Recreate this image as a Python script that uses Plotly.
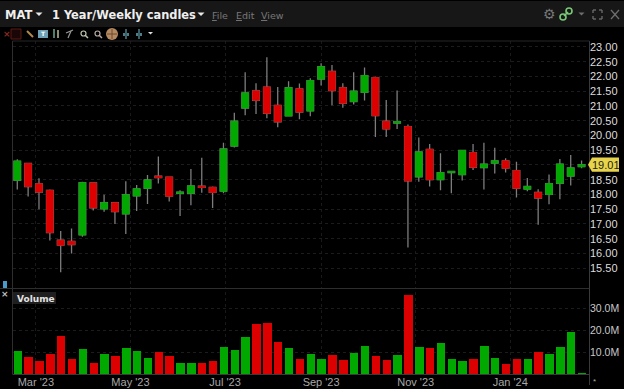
import plotly.graph_objects as go

dates = ["2023-02-17","2023-02-24","2023-03-03","2023-03-10","2023-03-17","2023-03-24","2023-03-31","2023-04-07","2023-04-14","2023-04-21","2023-04-28","2023-05-05","2023-05-12","2023-05-19","2023-05-26","2023-06-02","2023-06-09","2023-06-16","2023-06-23","2023-06-30","2023-07-07","2023-07-14","2023-07-21","2023-07-28","2023-08-04","2023-08-11","2023-08-18","2023-08-25","2023-09-01","2023-09-08","2023-09-15","2023-09-22","2023-09-29","2023-10-06","2023-10-13","2023-10-20","2023-10-27","2023-11-03","2023-11-10","2023-11-17","2023-11-24","2023-12-01","2023-12-08","2023-12-15","2023-12-22","2023-12-29","2024-01-05","2024-01-12","2024-01-19","2024-01-26","2024-02-02","2024-02-09","2024-02-16"]
opens = [18.48,19.05,18.36,18.14,16.45,16.41,16.63,18.39,17.51,17.72,17.34,17.95,18.21,18.62,18.59,18.04,18.04,18.28,18.24,18.11,19.64,20.93,21.51,21.64,21.02,20.66,21.58,20.83,21.91,22.17,21.62,21.15,21.46,21.96,20.48,20.42,20.30,18.60,19.53,18.50,18.74,18.67,19.42,18.91,19.06,19.14,18.81,18.18,18.07,18.00,18.38,18.62,18.94]
closes = [19.13,18.27,18.08,16.71,16.28,16.30,18.40,17.55,17.72,17.42,17.99,18.19,18.49,18.57,17.94,18.08,18.29,18.24,18.07,19.54,20.48,21.44,21.19,20.75,20.46,21.62,20.79,21.86,22.33,21.52,21.09,21.50,22.03,20.67,20.22,20.47,18.46,19.44,18.50,18.74,18.78,19.49,18.92,19.03,19.14,18.89,18.21,18.27,17.88,18.37,19.03,18.90,19.01]
highs = [19.19,19.05,18.55,18.17,16.76,16.85,18.43,18.40,17.99,17.72,18.45,18.32,18.66,19.29,18.60,18.14,18.86,19.24,18.27,19.75,20.77,22.14,21.77,22.65,21.64,21.84,21.76,21.94,22.45,22.39,21.77,22.14,22.30,21.99,21.20,21.52,20.37,19.93,19.71,19.40,18.78,19.49,19.71,19.75,19.58,19.23,19.11,18.56,18.18,18.68,19.20,19.34,19.15]
lows = [18.17,17.93,17.50,16.44,15.36,16.00,16.57,17.46,17.41,17.00,16.66,17.44,17.68,18.37,17.76,17.27,17.63,18.06,17.54,18.04,19.59,20.68,20.73,20.58,20.28,20.66,20.55,20.65,21.69,21.02,20.94,21.05,21.18,19.95,19.95,20.22,16.20,18.43,18.27,18.14,18.04,18.47,18.83,18.17,18.71,18.74,17.90,18.11,16.97,17.67,17.84,18.30,18.89]
volumes = [10.9,8.1,6.4,9.3,17.8,6.9,11.6,5.1,9.3,8.7,12.1,10.9,7.7,10.3,8.3,5.1,5.5,5.5,6.4,12.4,11.2,17.2,23.1,23.6,15.0,12.1,6.9,9.3,6.9,9.0,6.6,10.0,13.2,8.3,6.6,8.9,36.3,12.7,12.3,14.5,7.2,6.1,7.0,13.2,7.5,4.9,7.3,6.9,10.4,9.3,12.4,19.4,0.5]
price_ticks = [15.5,16,16.5,17,17.5,18,18.5,19,19.5,20,20.5,21,21.5,22,22.5,23]
price_labels = ["15.50","16.00","16.50","17.00","17.50","18.00","18.50","","19.50","20.00","20.50","21.00","21.50","22.00","22.50","23.00"]
volume_ticks = [10,20,30]
volume_labels = ["10.0M","20.0M","30.0M"]
last_price = 19.01

GREEN, RED = "#00a800", "#dc0000"
W, H = 624, 389
px = lambda x: x / W
py = lambda y: 1 - y / H

body_hi = [max(o, c) for o, c in zip(opens, closes)]
body_lo = [min(o, c) for o, c in zip(opens, closes)]
vol_colors = [GREEN if c >= o else RED for o, c in zip(opens, closes)]

fig = go.Figure()
fig.add_trace(go.Candlestick(x=dates, open=opens, high=highs, low=lows, close=closes, whiskerwidth=0,
    increasing=dict(line=dict(color="#7d7d7d", width=1.3), fillcolor="#7d7d7d"),
    decreasing=dict(line=dict(color="#7d7d7d", width=1.3), fillcolor="#7d7d7d"),
    xaxis="x", yaxis="y", showlegend=False))
fig.add_trace(go.Candlestick(x=dates, open=opens, high=body_hi, low=body_lo, close=closes, whiskerwidth=0,
    increasing=dict(line=dict(color=GREEN, width=0.8), fillcolor=GREEN),
    decreasing=dict(line=dict(color=RED, width=0.8), fillcolor=RED),
    xaxis="x", yaxis="y", showlegend=False))
fig.add_trace(go.Bar(x=dates, y=volumes, marker=dict(color=vol_colors, line=dict(width=0)), width=7.0*0.78*86400000,
    xaxis="x2", yaxis="y2", showlegend=False))

x_range = ["2023-02-13 22:00", "2024-02-20 19:00"]
common_x = dict(range=x_range, type="date", showgrid=True, gridcolor="#191919", griddash="dot", gridwidth=1,
                tick0="2023-03-01", dtick="M2", zeroline=False, showline=False, ticks="")
fig.update_layout(
    width=W, height=H, margin=dict(l=0, r=0, t=0, b=0), paper_bgcolor="#000000", plot_bgcolor="#000000",
    boxgap=0.12, bargap=0, hovermode=False,
    font=dict(family="Liberation Sans", color="#d8d8d8", size=12),
    xaxis=dict(common_x, domain=[px(12.5), px(589)], anchor="y", showticklabels=False, rangeslider=dict(visible=False)),
    xaxis2=dict(common_x, domain=[px(12.5), px(589)], anchor="y2", tickformat="%b '%y",
                tickfont=dict(size=11, color="#a8a8a8"), ticklabelposition="outside"),
    yaxis=dict(domain=[py(288), py(41)], range=[14.83, 23.2], side="right", anchor="x", tickvals=price_ticks,
               ticktext=price_labels, showgrid=True, gridcolor="#1c1c1c", griddash="dot", zeroline=False,
               tickfont=dict(size=11, color="#dcdcdc"), ticks="", showline=False),
    yaxis2=dict(domain=[py(374), py(291.5)], range=[0, 37.8], side="right", anchor="x2", tickvals=volume_ticks,
                ticktext=volume_labels, showgrid=True, gridcolor="#1c1c1c", griddash="dot", zeroline=False,
                tickfont=dict(size=10.5, color="#c8c8c8"), ticks="", showline=False),
)

shapes, anns = [], []
def rect(x0, y0, x1, y1, fill, line=None):
    shapes.append(dict(type="rect", xref="paper", yref="paper", x0=px(x0), x1=px(x1), y0=py(y0), y1=py(y1),
                       fillcolor=fill, line=dict(width=1 if line else 0, color=line or fill), layer="above"))
def seg(x0, y0, x1, y1, color, w=1):
    shapes.append(dict(type="line", xref="paper", yref="paper", x0=px(x0), x1=px(x1), y0=py(y0), y1=py(y1),
                       line=dict(color=color, width=w), layer="above"))
def tri(x, y, s, color):
    shapes.append(dict(type="path", xref="paper", yref="paper",
        path=f"M {px(x-s)} {py(y)} L {px(x+s)} {py(y)} L {px(x)} {py(y+s)} Z",
        fillcolor=color, line=dict(width=0), layer="above"))
def text(x, y, s, size, color, family="Liberation Sans", anchor="left", bold=False):
    anns.append(dict(xref="paper", yref="paper", x=px(x), y=py(y), text=f"<b>{s}</b>" if bold else s,
        showarrow=False, xanchor=anchor, yanchor="middle", font=dict(size=size, color=color, family=family)))

# header band and panel frames
rect(0, 1, 624, 27, "#171717")
seg(12.5, 41, 12.5, 374, "#2e2e2e")
seg(589.5, 41, 589.5, 385, "#3a3a3a")
seg(12.5, 41, 589.5, 41, "#262626")
seg(0, 288.5, 589.5, 288.5, "#2e2e2e")
seg(12.5, 374.5, 589.5, 374.5, "#3a3a3a")

text(3, 15, "MAT", 11.5, "#efefef", "DejaVu Sans", bold=True)
tri(39, 12.5, 3.5, "#e8e8e8")
text(50, 15, "1 Year/Weekly candles", 11.4, "#efefef", "DejaVu Sans", bold=True)
tri(201, 12.5, 3.5, "#e8e8e8")
text(210, 15, "<u>F</u>ile", 9.5, "#777777", "DejaVu Sans")
text(234, 15, "<u>E</u>dit", 9.5, "#777777", "DejaVu Sans")
text(259, 15, "<u>V</u>iew", 9.5, "#777777", "DejaVu Sans")

# toolbar glyphs
text(1, 33.5, "×", 9, "#8a2a20", "DejaVu Sans", bold=True)
rect(11, 29, 21, 39, "#1a0606", "#5a1a14")
rect(38, 30, 48, 38, "#6f9fb5")
text(43, 34, "T", 6, "#ffffff", "DejaVu Sans", anchor="center", bold=True)
rect(53, 29, 55, 38, "#4d7f6a"); rect(57, 30, 59, 38, "#8a8f70")
seg(68, 38, 71, 31, "#999999", 1.2); seg(66, 33, 73, 30, "#999999", 1.2)
seg(27, 31, 33, 37, "#b08a4a", 2)
for cx, col in ((84, "#b9c4a8"), (98, "#b9a8a8")):
    shapes.append(dict(type="circle", xref="paper", yref="paper", x0=px(cx-3), x1=px(cx+2), y0=py(36), y1=py(31),
                       line=dict(color=col, width=1.2), layer="above"))
    seg(cx+1, 35, cx+4, 38, col, 1.5)
shapes.append(dict(type="circle", xref="paper", yref="paper", x0=px(106), x1=px(118), y0=py(40), y1=py(28),
                   fillcolor="#b58a62", line=dict(width=0), layer="above"))
seg(112, 29, 112, 39, "#6a4a30"); seg(107, 34, 117, 34, "#6a4a30")
for x0 in (126, 139):
    seg(x0, 29, x0, 39, "#4d7f8a", 1.5)
    rect(x0-3, 33, x0-1, 36, "#4d7f8a"); rect(x0+1, 33, x0+3, 36, "#4d7f8a")
tri(150.5, 32, 2.5, "#dddddd")

# window controls
text(549, 14, "⚙", 14, "#777777", "DejaVu Sans", anchor="center")
for (a, b) in ((563, 17), (569, 11)):
    shapes.append(dict(type="circle", xref="paper", yref="paper", x0=px(a-3), x1=px(a+3), y0=py(b+3), y1=py(b-3),
                       line=dict(color="#78c878", width=1.6), layer="above"))
seg(564, 16, 568, 12, "#78c878", 1.6)
tri(581.5, 12.5, 3, "#6e6e6e")
for (x, y, dx, dy) in ((593, 10, 1, 1), (602, 10, -1, 1), (593, 19, 1, -1), (602, 19, -1, -1)):
    seg(x, y, x + 3*dx, y, "#6e6e6e", 1.3); seg(x, y, x, y + 3*dy, "#6e6e6e", 1.3)
seg(611, 10, 619, 19, "#6e6e6e", 1.3); seg(619, 10, 611, 19, "#6e6e6e", 1.3)

# panel furniture
rect(3, 281, 7, 288, "#4a9cc8")
text(5, 294, "×", 9, "#bdbdbd", "DejaVu Sans", anchor="center", bold=True)
rect(13, 292, 56, 304, "#1f1f1f")
text(15, 298.5, "Volume", 9, "#e4e4e4", "DejaVu Sans", bold=True)
text(591, 381, "*", 8, "#aaaaaa")

# last price tag, placed on the price axis
shapes.append(dict(type="path", xref="paper", yref="y",
    path=f"M {px(588)} {last_price} L {px(592)} {last_price+0.24} L {px(619)} {last_price+0.24} L {px(619)} {last_price-0.24} L {px(592)} {last_price-0.24} Z",
    fillcolor="#e8d44a", line=dict(width=0), layer="above"))
anns.append(dict(xref="paper", yref="y", x=px(605.5), y=last_price, text=f"{last_price:.2f}", showarrow=False,
                 xanchor="center", yanchor="middle", font=dict(size=11, color="#222222")))

fig.update_layout(shapes=shapes, annotations=anns)
fig.write_html("out.html", config=dict(displayModeBar=False),
               post_script="document.body.style.margin='0';document.body.style.background='#000';document.documentElement.style.overflow='hidden';")
